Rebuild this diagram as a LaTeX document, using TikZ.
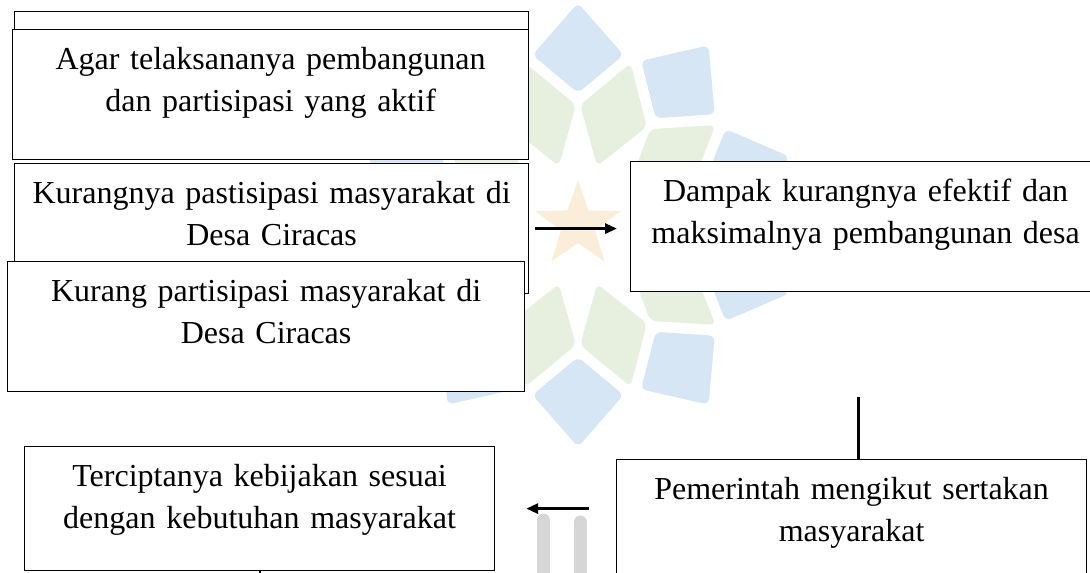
\documentclass[tikz,border=0pt]{standalone}
\usepackage{fontspec}
\setmainfont{Liberation Serif}
\usetikzlibrary{arrows.meta}

\definecolor{biru}{RGB}{214,230,244}
\definecolor{hijau}{RGB}{231,240,222}
\definecolor{bintang}{RGB}{250,238,218}
\definecolor{abu}{RGB}{214,214,214}

\tikzset{
  kotak/.style={draw, fill=white, line width=0.6pt, anchor=north west, align=center,
    inner xsep=0pt, inner ysep=0pt, text height=20pt, text depth=45pt,
    font=\fontsize{16}{21}\selectfont},
  panah/.style={line width=1.5pt, -{Triangle[length=6pt,width=5pt]}},
  garis/.style={line width=1.5pt},
}

\begin{document}
\begin{tikzpicture}[x=0.5pt, y=-0.5pt]
\useasboundingbox (0,0) rectangle (1090,572);

% latar
\begin{scope}[shift={(578,225)}]
\foreach \a in {90,126,...,414} {
  \fill[biru, rounded corners=3pt] (\a:132) -- ({\a+15}:176) -- (\a:222) -- ({\a-15}:176) -- cycle;
  \fill[hijau, rounded corners=3pt] ({\a+18}:62) -- ({\a+35}:120) -- ({\a+18}:170) -- ({\a+1}:120) -- cycle;
}
\fill[bintang] (270:45) \foreach \k in {1,...,9} {-- ({270+\k*36}:{mod(\k,2)==1 ? 18 : 45})} -- cycle;
\end{scope}
\draw[abu, line width=6.5pt, line cap=round] (543,520) -- (543,600) (580,522) -- (580,600);

% kiri
\node[kotak, text width=257pt] (atas) at (14,11) {};
\node[kotak, text width=258pt] (agar) at (12,29) {Agar telaksananya pembangunan\\dan partisipasi yang aktif};
\node[kotak, text width=257pt] (kurangnya) at (14,163) {Kurangnya pastisipasi masyarakat di\\Desa Ciracas};
\node[kotak, text width=258.5pt] (kurang) at (7,261) {Kurang partisipasi masyarakat di\\Desa Ciracas};
\node[kotak, text width=235pt, text depth=42pt] (tercipta) at (24,446) {Terciptanya kebijakan sesuai\\dengan kebutuhan masyarakat};

% kanan
\node[kotak, text width=235pt] (dampak) at (630,161) {Dampak kurangnya efektif dan\\maksimalnya pembangunan desa};
\node[kotak, text width=235pt] (pemerintah) at (616,459) {Pemerintah mengikut sertakan\\masyarakat};

% panah
\draw[panah] ([xshift=3pt] kurangnya.east) -- ([xshift=-6.5pt] dampak.west |- kurangnya.east);
\draw[garis] ([xshift=3.5pt] pemerintah.north) -- ++(0,-62);
\draw[panah] ([xshift=-13.5pt] pemerintah.west |- tercipta.east) -- ([xshift=15.5pt] tercipta.east);
\draw[line width=1pt] (tercipta.south) -- ++(0,10);

\end{tikzpicture}
\end{document}
